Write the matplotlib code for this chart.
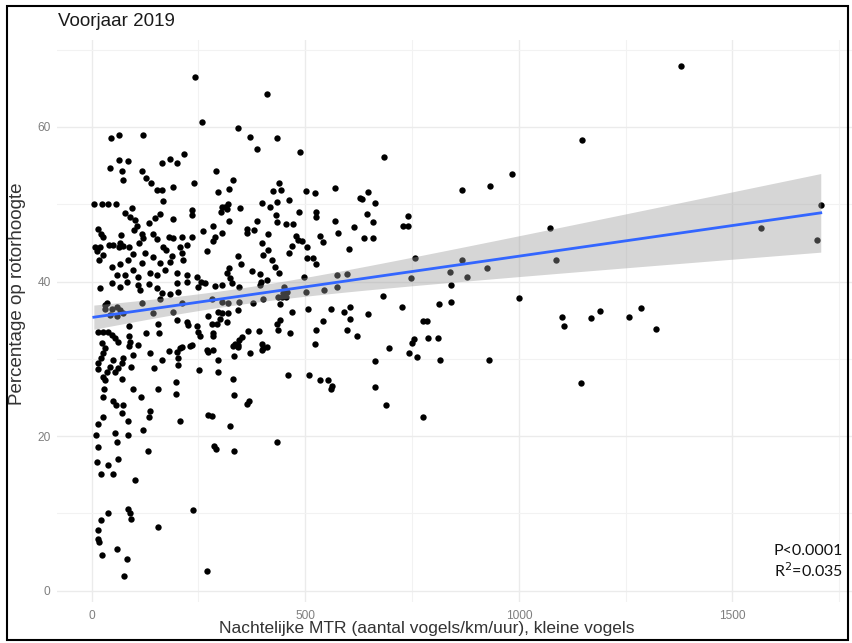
import numpy as np
import matplotlib

matplotlib.use("Agg")
import matplotlib.pyplot as plt
from matplotlib.patches import Rectangle

# Nightly MTR (x) and percentage at rotor height (y), spring 2019
mtr = [
    258, 45, 64, 119, 217, 63, 85, 43, 72, 74, 165, 183, 200, 118, 128, 140, 152, 165, 190, 240,
    167, 5, 25, 39, 57, 94, 79, 90, 101, 107, 99, 160, 149, 134, 190, 236, 234, 15, 21, 26,
    69, 66, 117, 119, 143, 154, 182, 190, 211, 234, 261, 8, 19, 13, 26, 18, 41, 51, 65, 73,
    88, 97, 111, 125, 143, 168, 174, 187, 207, 211, 222, 269, 47, 66, 84, 97, 117, 136, 160, 183,
    214, 246, 59, 78, 109, 152, 172, 199, 222,
    19, 47, 66, 82, 109, 133, 152, 199, 222, 250, 113, 164, 183, 203, 35, 30, 31, 47, 59, 66,
    74, 43, 59, 117, 160, 144, 211, 191, 200, 222, 226, 246, 273, 88, 126, 156, 158, 15, 27, 39,
    47, 55, 62, 88, 90, 88, 109, 250, 254, 234, 23, 31, 27, 21, 15, 15, 49, 43, 35, 27,
    31, 74, 70, 62, 55, 97, 92, 136, 164, 146, 182, 199, 207, 203, 201, 211, 230, 252, 273, 70,
    29, 26, 96, 115, 156, 197, 197, 51, 57, 74, 70, 27, 15, 136, 135, 86, 121, 207, 273, 55,
    59, 86, 10, 15,
    132, 12, 38, 61, 21, 50, 101, 84, 90, 92, 38, 22, 237, 155, 15, 15, 18, 59, 25, 82,
    76, 269, 287, 290, 333, 435, 243,
    410, 342, 371, 433, 386, 487, 290, 331, 322, 296, 438, 444, 424, 502, 523, 570, 628, 304, 312, 320,
    302, 316, 347, 399, 417, 433, 463, 431, 435, 485, 525, 525, 322, 388, 456, 471, 570, 614, 285, 306,
    289, 285, 363, 363, 380, 413, 478, 484, 492, 534, 541, 576, 343, 398, 412, 402, 468, 463, 503, 505,
    519, 603, 421,
    349, 525, 429, 439, 322, 316, 324, 328, 375, 394, 396, 394, 410, 255, 265, 289, 304, 346, 497, 574,
    597, 574, 544, 502, 451, 449, 457, 437, 445, 455, 400, 377, 346, 318, 304, 281, 342, 441, 468, 507,
    560, 591, 605, 296, 304, 300, 320, 293, 281, 316, 605, 541, 441, 433, 437, 285, 283, 367, 392, 464,
    524, 597, 622, 523, 351, 346, 342, 335, 343, 331, 398, 402, 410, 398, 269, 285, 296, 371, 334, 296,
    460, 508, 534, 553, 562, 560, 330, 334, 363, 369, 281, 324,
    685, 985, 866, 933, 648, 633, 664, 644, 659, 741, 728, 741, 637, 658, 758, 868, 925, 840, 879, 747,
    841, 681, 1000,
    726, 814, 842, 647, 776, 786, 787, 810, 755, 751, 697, 744, 761, 664, 815, 931, 664, 689, 776,
    1380, 1148, 1074, 1086, 1568, 1699, 1707, 1100, 1105, 1168, 1191, 1259, 1285, 1322, 1145,
]
rotor_pct = [
    60.6, 58.5, 59.0, 58.9, 56.5, 55.7, 55.6, 54.7, 54.3, 53.1, 55.3, 55.8, 55.3, 54.3, 53.4, 52.8, 51.9, 51.9, 52.2, 52.8,
    50.4, 50.0, 50.0, 50.0, 50.0, 49.5, 48.8, 48.4, 47.9, 47.2, 46.7, 48.7, 48.2, 47.6, 48.1, 49.3, 48.6, 46.8, 46.2, 45.8,
    46.0, 45.0, 46.1, 45.6, 46.2, 45.5, 45.7, 45.6, 45.7, 45.8, 46.5, 44.5, 44.5, 43.9, 43.4, 42.8, 44.7, 44.7, 44.5, 44.6,
    44.5, 43.6, 45.0, 43.7, 43.2, 44.5, 44.1, 43.3, 44.5, 43.7, 44.7, 43.9, 41.9, 42.3, 42.8, 41.5, 42.4, 41.1, 42.4, 42.5,
    42.8, 40.6, 40.9, 40.9, 40.6, 40.9, 41.5, 41.1, 40.9,
    39.1, 39.8, 39.3, 39.9, 39.6, 39.7, 39.1, 39.8, 40.0, 39.3, 38.9, 38.5, 38.4, 38.6, 37.2, 37.0, 36.5, 36.5, 36.7, 36.3,
    35.9, 35.7, 35.5, 37.2, 37.8, 35.9, 37.2, 36.0, 35.0, 34.8, 34.4, 34.2, 35.5, 34.2, 33.4, 34.5, 33.4, 33.5, 33.5, 33.5,
    33.1, 32.7, 32.2, 32.9, 32.2, 31.6, 31.8, 33.5, 32.9, 31.8, 32.0, 31.4, 30.7, 30.1, 29.4, 28.7, 29.8, 29.0, 28.3, 27.7,
    27.3, 30.1, 29.4, 28.8, 28.3, 30.5, 28.9, 30.8, 29.9, 28.8, 31.0, 30.9, 31.4, 30.1, 29.2, 31.5, 31.6, 28.6, 30.9, 27.4,
    26.1, 25.1, 26.1, 25.1, 26.1, 27.0, 25.5, 24.5, 24.0, 24.0, 23.0, 22.5, 21.6, 23.2, 22.5, 21.9, 20.8, 21.9, 22.7, 20.4,
    19.3, 20.1, 20.1, 18.6,
    18.1, 16.7, 16.3, 17.0, 15.1, 15.1, 14.3, 10.6, 10.1, 9.3, 10.1, 9.1, 10.4, 8.2, 7.8, 6.7, 6.3, 5.4, 4.6, 4.1,
    1.9, 2.5, 18.7, 18.3, 18.1, 19.2, 66.5,
    64.2, 59.8, 58.7, 58.6, 57.1, 56.8, 54.3, 53.1, 52.0, 51.6, 52.8, 51.9, 51.7, 51.7, 51.4, 52.1, 50.8, 49.7, 49.7, 50.0,
    49.0, 49.4, 49.5, 50.1, 49.6, 50.3, 50.6, 48.6, 47.7, 49.0, 49.0, 48.3, 47.8, 47.8, 47.5, 47.5, 47.8, 47.0, 47.2, 46.3,
    45.8, 45.2, 46.8, 46.3, 46.6, 46.2, 45.9, 45.4, 45.2, 45.9, 45.1, 46.3, 43.3, 45.0, 44.1, 43.4, 44.6, 43.7, 44.4, 43.1,
    43.0, 44.2, 42.8,
    42.3, 42.3, 41.9, 41.1, 41.8, 41.1, 40.4, 39.8, 41.4, 41.0, 40.0, 39.6, 40.2, 40.0, 39.8, 39.4, 39.5, 39.3, 40.6, 40.9,
    41.0, 39.3, 38.9, 38.6, 39.3, 38.5, 38.7, 38.0, 38.0, 38.0, 37.8, 37.2, 37.3, 37.2, 37.4, 37.8, 36.3, 37.1, 36.0, 36.5,
    36.5, 36.1, 36.7, 36.1, 35.9, 35.2, 35.9, 34.5, 34.5, 34.7, 35.1, 34.9, 35.0, 34.5, 33.7, 33.4, 32.9, 33.6, 33.6, 33.4,
    33.7, 33.7, 33.0, 31.9, 32.8, 32.4, 31.8, 31.9, 31.5, 31.6, 31.9, 31.4, 31.5, 31.2, 31.1, 31.1, 29.9, 30.7, 30.4, 28.3,
    27.9, 27.9, 27.3, 27.3, 26.5, 26.1, 27.4, 25.3, 24.2, 24.5, 22.6, 21.3,
    56.1, 53.9, 51.9, 52.3, 51.6, 50.7, 50.2, 48.7, 47.7, 48.5, 47.2, 47.2, 45.6, 45.6, 43.0, 42.8, 41.7, 41.2, 40.6, 40.4,
    39.6, 38.1, 37.9,
    36.7, 37.1, 37.3, 35.8, 34.9, 34.9, 32.7, 32.7, 32.5, 32.0, 31.4, 30.8, 30.2, 29.7, 29.8, 29.8, 26.4, 24.0, 22.5,
    67.9, 58.3, 46.9, 42.8, 46.9, 45.4, 49.9, 35.4, 34.3, 35.3, 36.2, 35.4, 36.6, 33.8, 26.9,
]

title = "Voorjaar 2019"
x_title = "Nachtelijke MTR (aantal vogels/km/uur), kleine vogels"
y_title = "Percentage op rotorhoogte"
stats_text = "P<0.0001\nR$^2$=0.035"
x_ticks = [0, 500, 1000, 1500]
y_ticks = [0, 20, 40, 60]

x = np.array(mtr, dtype=float)
y = np.array(rotor_pct, dtype=float)

# linear fit with 95% confidence band, like geom_smooth(method = "lm")
slope, intercept = np.polyfit(x, y, 1)
n = len(x)
resid = y - (intercept + slope * x)
s = np.sqrt(np.sum(resid**2) / (n - 2))
sxx = np.sum((x - x.mean()) ** 2)
xs = np.linspace(x.min(), x.max(), 100)
fit = intercept + slope * xs
half = 1.965 * s * np.sqrt(1 / n + (xs - x.mean()) ** 2 / sxx)

# ggplot-style 5% expansion of the data range
xr = x.max() - x.min()
yr = y.max() - y.min()
xlim = (x.min() - 0.05 * xr, x.max() + 0.05 * xr)
ylim = (y.min() - 0.05 * yr, y.max() + 0.05 * yr)

W, H = 853, 643
fig = plt.figure(figsize=(W / 100, H / 100), dpi=100)
plt.rcParams["font.family"] = ["Liberation Sans", "DejaVu Sans"]

# panel placement (pixels): x=0 at 91.7, 0.4271 px per unit; y=0 at 590.7, 7.73 px per unit
px0, pxs = 91.7, 0.4271
py0, pys = 590.7, 7.73
left = px0 + pxs * xlim[0]
right = px0 + pxs * xlim[1]
top = py0 - pys * ylim[1]
bottom = py0 - pys * ylim[0]
ax = fig.add_axes([left / W, 1 - bottom / H, (right - left) / W, (bottom - top) / H])

ax.set_xlim(xlim)
ax.set_ylim(ylim)
for side in ax.spines.values():
    side.set_visible(False)

ax.set_xticks(x_ticks)
ax.set_yticks(y_ticks)
ax.set_xticks([250, 750, 1250, 1750], minor=True)
ax.set_yticks([10, 30, 50, 70], minor=True)
ax.grid(True, which="major", color="#ebebeb", linewidth=1.0)
ax.grid(True, which="minor", color="#f2f2f2", linewidth=0.8)
ax.set_axisbelow(True)
ax.tick_params(which="both", length=0, labelsize=8.6, labelcolor="#7f7f7f")
ax.tick_params(axis="x", pad=6)
ax.tick_params(axis="y", pad=5)

ax.scatter(x, y, s=21, color="black", linewidths=0, zorder=2)
ax.fill_between(xs, fit - half, fit + half, color="#999999", alpha=0.4, linewidth=0, zorder=3)
ax.plot(xs, fit, color="#3366FF", linewidth=2.0, zorder=4)

fig.text(58 / W, 1 - 22 / H, title, fontsize=13.5, color="#1a1a1a", ha="left", va="center")
fig.text(427 / W, 1 - 629 / H, x_title, fontsize=12.5, color="#333333", ha="center", va="center")
fig.text(18 / W, 1 - 294 / H, y_title, fontsize=13.5, color="#333333", ha="center", va="center",
         rotation=90)
fig.text(774 / W, 1 - 562 / H, stats_text, fontsize=11.5, family=["Lato", "DejaVu Sans"],
         color="#111111", ha="left", va="center", linespacing=1.25)

fig.patches.append(Rectangle((7 / W, 1 - 640 / H), (841 / W), (634 / H), transform=fig.transFigure,
                             fill=False, edgecolor="black", linewidth=1.5))

fig.savefig("out.png", dpi=100)
